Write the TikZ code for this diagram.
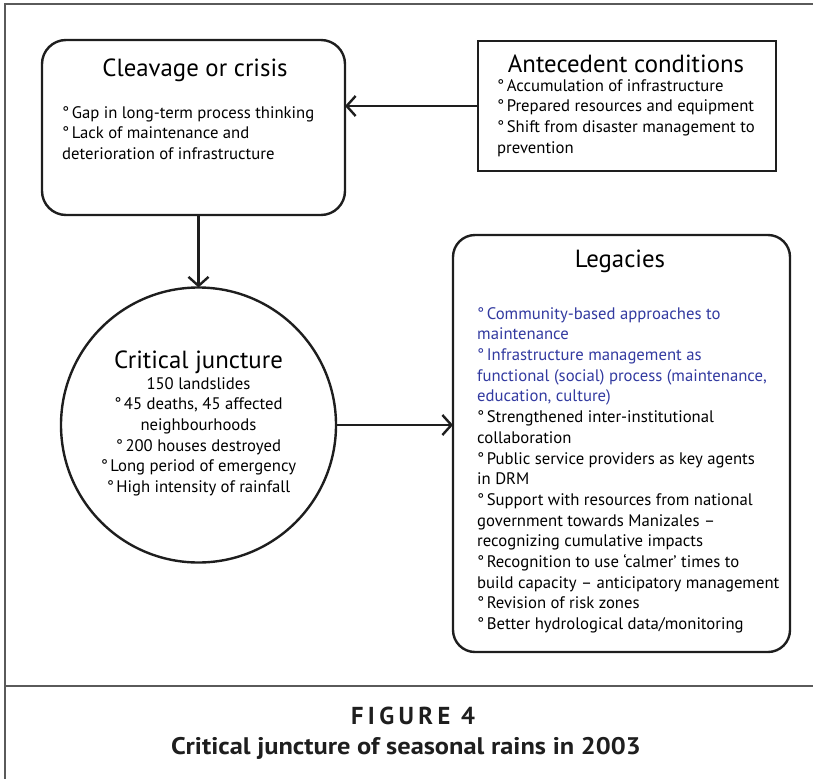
\documentclass[tikz,border=0pt]{standalone}
\usepackage{fontspec}
\setmainfont{PT Sans}
\usetikzlibrary{arrows.meta,positioning}
\definecolor{legblue}{RGB}{50,58,160}
\definecolor{inkgray}{RGB}{30,30,30}
\definecolor{framegray}{RGB}{90,90,90}
\newcommand\itm{°\kern2.5pt}

\begin{document}
\begin{tikzpicture}[
   x=1pt,y=-1pt,
   rbox/.style={draw=inkgray,line width=2.4pt,rounded corners=24pt,
      inner sep=0pt,outer sep=0pt},
   sbox/.style={draw=inkgray,line width=2.8pt,inner sep=0pt,outer sep=0pt},
   headtext/.style={inner sep=0pt,font=\fontsize{24.8}{28}\selectfont},
   listtext/.style={inner sep=0pt,anchor=north west,align=left,
      font=\fontsize{16.7}{20.7}\selectfont},
   link/.style={-{Straight Barb[length=9pt,width=20pt]},line width=2.4pt,
      draw=inkgray}]
\useasboundingbox (0,0) rectangle (813,779);
% outer frame
\draw[framegray,line width=1.2pt] (813,4) -- (5,4) -- (5,779);
\draw[framegray,line width=1.2pt] (5,686) -- (813,686);

% cleavage or crisis
\node[rbox,minimum width=303,minimum height=175] (cleavage) at (193.5,127.5) {};
\node[headtext] (cleavagehead) at (195,70) {Cleavage or crisis};
\node[listtext] (cleavagelist) at (62,106) {%
   \itm Gap in long-term process thinking\\
   \itm Lack of maintenance and\\
   deterioration of infrastructure};

% antecedent conditions
\node[sbox,minimum width=298,minimum height=130] (antecedent) at (627,106) {};
\node[headtext] (antecedenthead) at (626,64) {Antecedent conditions};
\node[listtext] (antecedentlist) at (497,79) {%
   \itm Accumulation of infrastructure\\
   \itm Prepared resources and equipment\\
   \itm Shift from disaster management to\\
   prevention};

% critical juncture
\node[circle,draw=inkgray,line width=2.4pt,minimum size=275,inner sep=0pt,
   outer sep=0pt] (juncture) at (198.5,425) {};
\node[headtext] (juncturehead) at (198.5,362) {Critical juncture};
\node[listtext,anchor=north,align=center] (juncturelist) at (198.5,377) {%
   150 landslides\\
   \itm 45 deaths, 45 affected\\
   neighbourhoods\\
   \itm 200 houses destroyed\\
   \itm Long period of emergency\\
   \itm High intensity of rainfall};

% legacies
\node[rbox,rounded corners=22pt,minimum width=337,minimum height=417]
   (legacies) at (621.5,443.5) {};
\node[headtext] (legacieshead) at (620,261) {Legacies};
\node[listtext] (legacieslist) at (477,307) {%
   \textcolor{legblue}{\itm Community-based approaches to}\\
   \textcolor{legblue}{maintenance}\\
   \textcolor{legblue}{\itm Infrastructure management as}\\
   \textcolor{legblue}{functional (social) process (maintenance,}\\
   \textcolor{legblue}{education, culture)}\\
   \itm Strengthened inter-institutional\\
   collaboration\\
   \itm Public service providers as key agents\\
   in DRM\\
   \itm Support with resources from national\\
   government towards Manizales –\\
   recognizing cumulative impacts\\
   \itm Recognition to use ‘calmer’ times to\\
   build capacity – anticipatory management\\
   \itm Revision of risk zones\\
   \itm Better hydrological data/monitoring};

% connectors
\draw[link] (antecedent.west) -- (antecedent.west -| cleavage.east);
\draw[link] (cleavage.south -| juncture.north) -- (juncture.north);
\draw[link] (juncture.east) -- (juncture.east -| legacies.west);

% caption
\node[font=\bfseries\fontsize{24.5}{28}\selectfont\addfontfeatures{LetterSpace=18},
   text=inkgray] (figlabel) at (413,716) {FIGURE 4};
\node[font=\bfseries\fontsize{24}{28}\selectfont,text=inkgray]
   (figtitle) at (406,748) {\scalebox{1.1}[1]{Critical juncture of seasonal rains in 2003}};
\end{tikzpicture}
\end{document}
